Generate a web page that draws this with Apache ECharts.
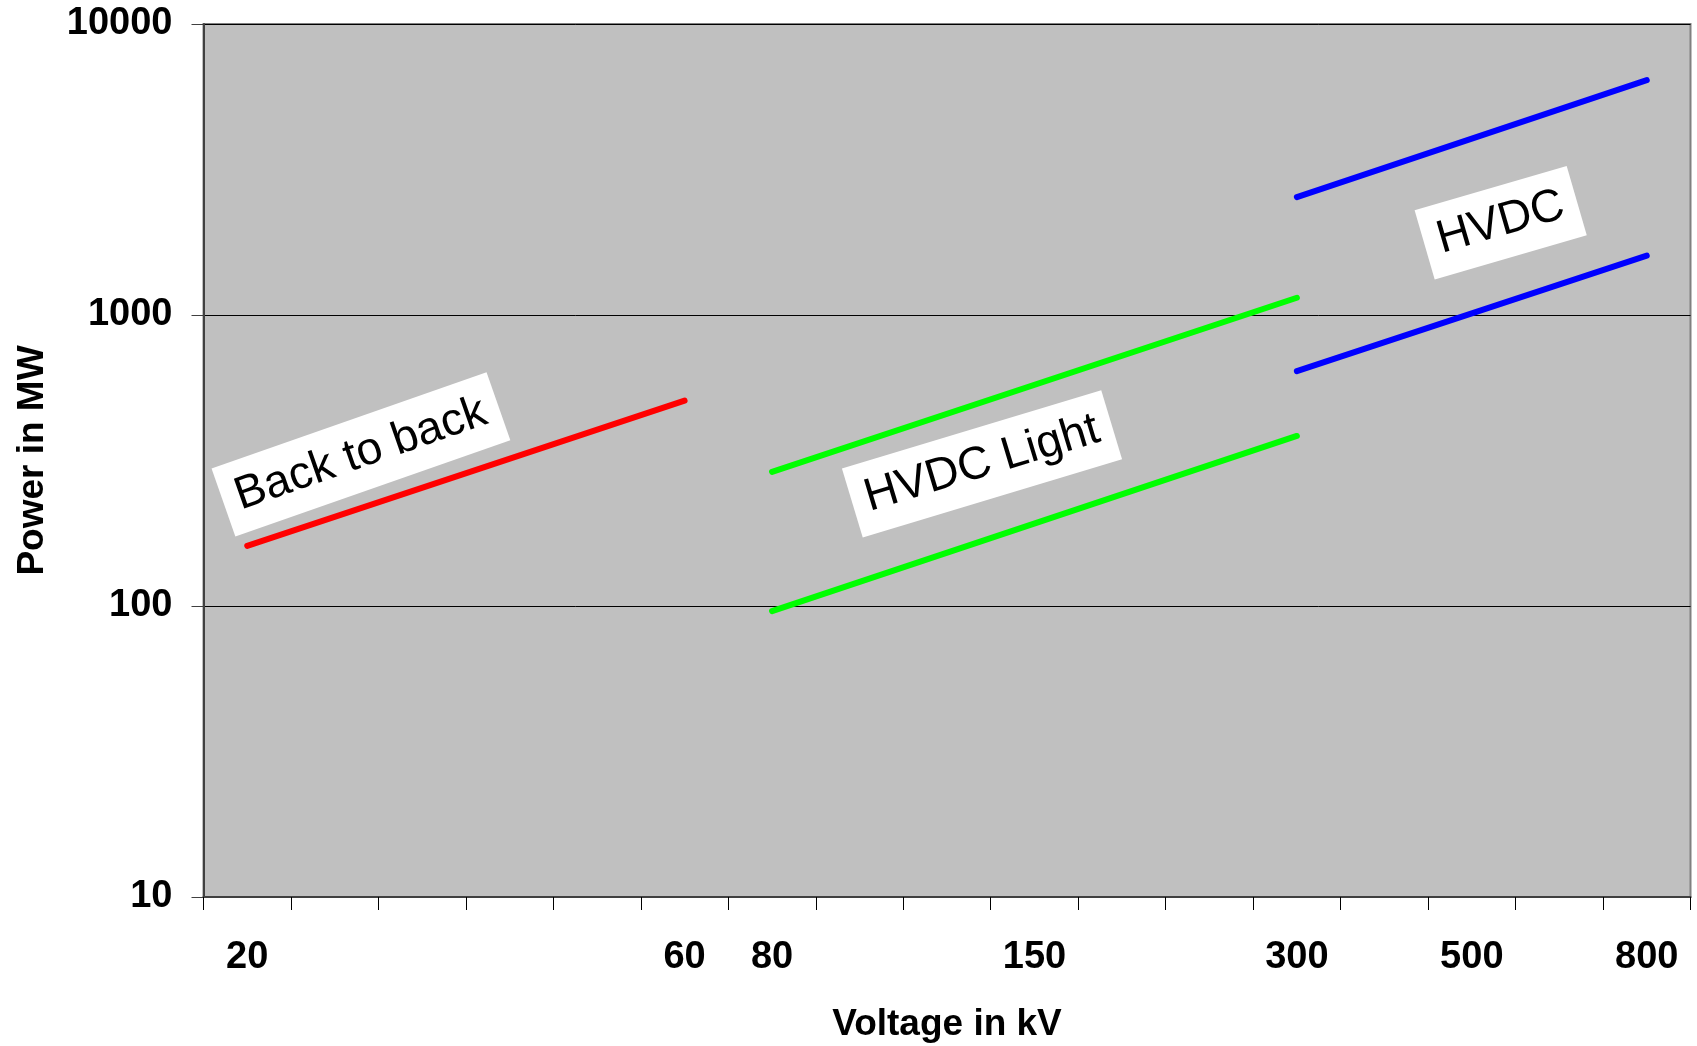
<!DOCTYPE html>
<html>
<head>
<meta charset="utf-8">
<title>HVDC power vs voltage</title>
<script src="https://cdn.jsdelivr.net/npm/echarts@6/dist/echarts.min.js"></script>
<style>
  html, body { margin: 0; padding: 0; background: #fff; }
  #chart { width: 1697px; height: 1046px; }
</style>
</head>
<body>
<div id="chart"></div>
<script>
// x axis categories (kV), only some are labelled
const voltages = ['20', '', '', '', '', '60', '80', '', '', '150', '', '', '300', '', '500', '', '800'];

// Back to back
const btbVoltage = ['20', '60'];
const btbPower = [161, 508];

// HVDC Light (upper / lower)
const lightVoltage = ['80', '300'];
const lightUpperPower = [289, 1146];
const lightLowerPower = [96, 384];

// HVDC (upper / lower)
const hvdcVoltage = ['300', '800'];
const hvdcUpperPower = [2542, 6414];
const hvdcLowerPower = [641, 1600];

// Text boxes on the plot
const noteText = ['Back to back', 'HVDC Light', 'HVDC'];
const notePos = [1.3, 8.4, 14.33];      // category index
const notePower = [332, 308, 2075];
const noteAngle = [19.3, 16.8, 16.2];

const FONT = 'Liberation Sans, Arial, sans-serif';

function pairs(xs, ys) {
    return xs.map((v, i) => [voltages.indexOf(v), ys[i]]);
}

function lineSeries(name, xs, ys, color) {
    return {
        name: name,
        type: 'line',
        data: pairs(xs, ys),
        symbol: 'none',
        lineStyle: { color: color, width: 6, cap: 'round' },
        z: 3
    };
}

const chart = echarts.init(document.getElementById('chart'));

chart.setOption({
    animation: false,
    grid: {
        left: 203.5, right: 6.5, top: 24, bottom: 149,
        outerBoundsMode: 'none',
        show: true,
        backgroundColor: '#C0C0C0',
        borderColor: '#808080',
        borderWidth: 2
    },
    xAxis: [{
        type: 'category',
        data: voltages,
        boundaryGap: true,
        name: 'Voltage in kV',
        nameLocation: 'middle',
        nameGap: 109,
        nameTextStyle: { fontFamily: FONT, fontWeight: 'bold', fontSize: 37, color: '#000' },
        axisLine: { lineStyle: { color: '#404040', width: 2 } },
        axisTick: { show: true, interval: 0, length: 13, lineStyle: { color: '#000', width: 1 } },
        axisLabel: {
            interval: 0, margin: 42,
            fontFamily: FONT, fontWeight: 'bold', fontSize: 38, color: '#000'
        },
        splitLine: { show: false }
    }, {
        type: 'value',
        min: -0.5, max: 16.5,
        show: false
    }],
    yAxis: {
        type: 'log',
        logBase: 10,
        min: 10, max: 10000,
        name: 'Power in MW',
        nameLocation: 'middle',
        nameGap: 152,
        nameRotate: 90,
        nameTextStyle: { fontFamily: FONT, fontWeight: 'bold', fontSize: 37, color: '#000' },
        axisLine: { show: true, onZero: false, lineStyle: { color: '#404040', width: 2 } },
        axisTick: { show: true, length: 12, lineStyle: { color: '#404040', width: 1 } },
        axisLabel: {
            margin: 31,
            formatter: v => String(Math.round(v)),
            fontFamily: FONT, fontWeight: 'bold', fontSize: 38, color: '#000'
        },
        splitLine: { show: true, lineStyle: { color: '#000', width: 1 } },
        minorTick: { show: false }
    },
    series: [
        lineSeries('Back to back', btbVoltage, btbPower, '#FF0000'),
        lineSeries('HVDC Light upper', lightVoltage, lightUpperPower, '#00FF00'),
        lineSeries('HVDC Light lower', lightVoltage, lightLowerPower, '#00FF00'),
        lineSeries('HVDC upper', hvdcVoltage, hvdcUpperPower, '#0000FF'),
        lineSeries('HVDC lower', hvdcVoltage, hvdcLowerPower, '#0000FF'),
        {
            name: 'notes',
            type: 'scatter',
            xAxisIndex: 1,
            symbolSize: 0,
            silent: true,
            z: 4,
            itemStyle: { opacity: 1 },
            data: noteText.map((t, i) => ({
                value: [notePos[i], notePower[i]],
                label: { formatter: t, rotate: noteAngle[i] }
            })),
            label: {
                show: true,
                position: 'inside',
                align: 'center',
                verticalAlign: 'middle',
                fontFamily: FONT,
                fontSize: 46,
                color: '#000',
                opacity: 1,
                backgroundColor: '#FFFFFF',
                padding: [13, 14]
            }
        }
    ]
});
</script>
</body>
</html>
